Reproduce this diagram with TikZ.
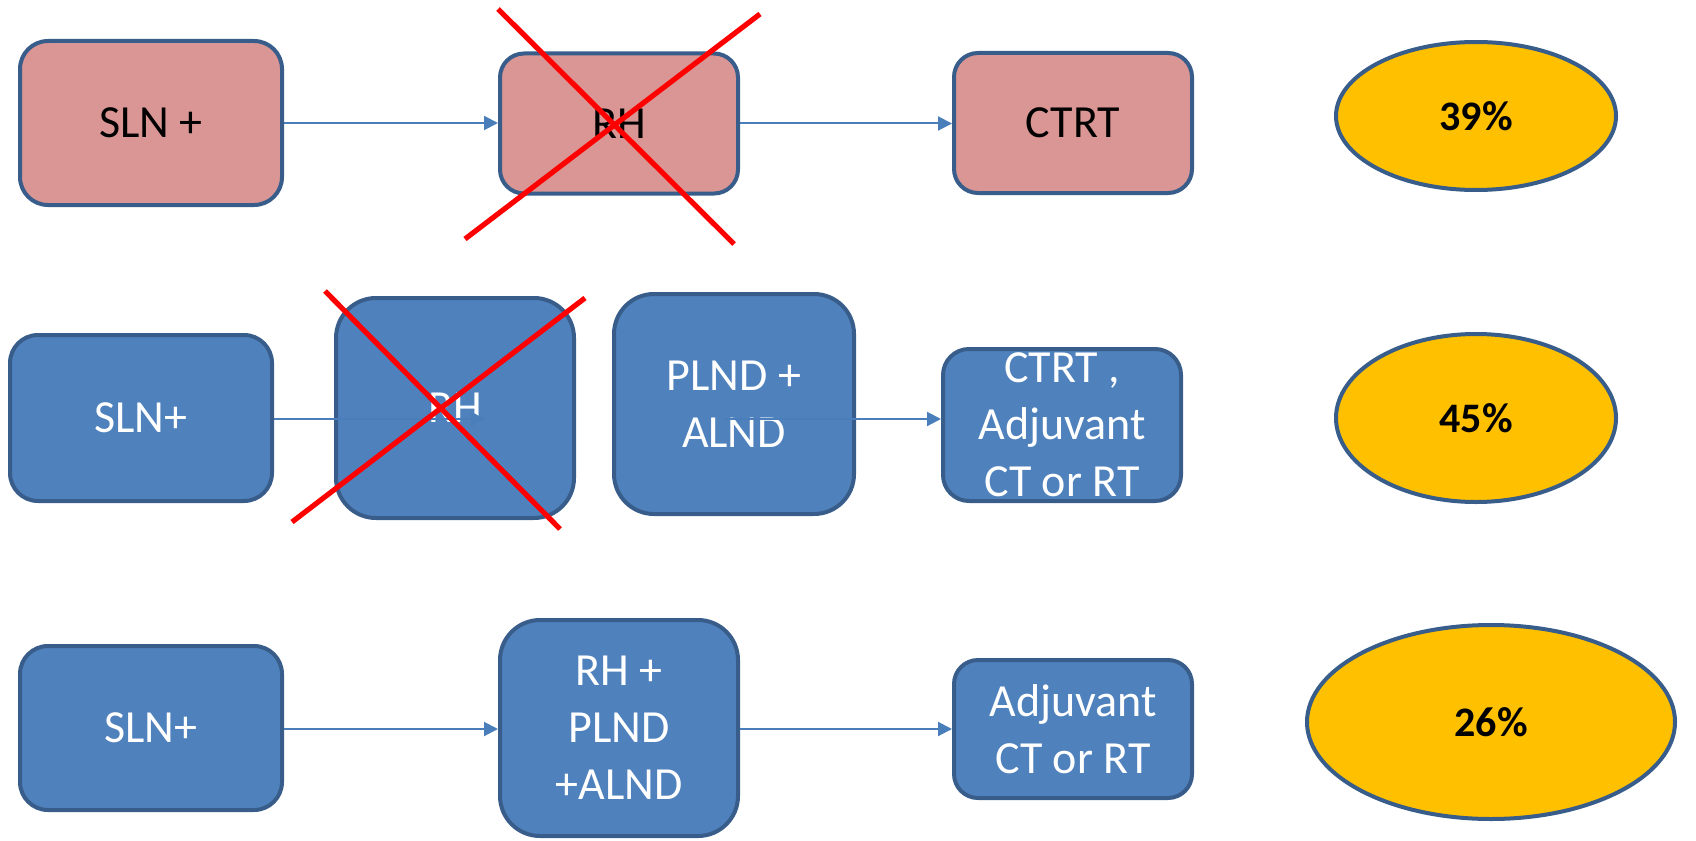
\documentclass[tikz,border=0pt]{standalone}
\usepackage{fontspec}
\setmainfont{Carlito}
\usetikzlibrary{shapes.geometric,arrows.meta}
\definecolor{pinkfill}{HTML}{D99694}
\definecolor{bluefill}{HTML}{4F81BD}
\definecolor{edgeblue}{HTML}{385D8A}
\definecolor{goldfill}{HTML}{FFC000}
\definecolor{linkblue}{HTML}{4A7EBB}
\tikzset{
  box/.style={rectangle, draw=edgeblue, line width=2pt, inner sep=0pt, align=center,
    font=\fontsize{23}{28.5}\selectfont},
  pinkbox/.style={box, fill=pinkfill, text=black},
  bluebox/.style={box, fill=bluefill, text=white},
  pct/.style={ellipse, draw=edgeblue, line width=2pt, fill=goldfill, inner sep=0pt,
    font=\fontsize{21}{25}\selectfont\bfseries},
  link/.style={draw=linkblue, line width=1pt, -{Triangle[length=7pt,width=7pt]}},
  strike/.style={draw=red, line width=2.6pt},
}
\begin{document}
\begin{tikzpicture}[x=0.5pt,y=-0.5pt]
\useasboundingbox (0,0) rectangle (1696,840);

% first row
\node[pinkbox, minimum width=131pt, minimum height=82pt, rounded corners=14pt] (s1) at (151,123) {SLN +};
\node[pinkbox, minimum width=119pt, minimum height=70pt, rounded corners=12pt] (r1) at (619,123.5) {RH};
\node[pinkbox, minimum width=119pt, minimum height=70pt, rounded corners=12pt] (c1) at (1073,123) {CTRT};
\node[pct, minimum width=140pt, minimum height=74pt] (e1) at (1476,116) {39\%};
\draw[link] (s1.east) -- (s1.east -| r1.west);
\draw[link] (r1.east) -- (r1.east -| c1.west);

% second row
\node[bluebox, minimum width=131pt, minimum height=83pt, rounded corners=14pt] (s2) at (141,418) {SLN+};
\node[bluebox, minimum width=119pt, minimum height=110pt, rounded corners=20pt] (r2) at (455,408) {RH};
\node[bluebox, minimum width=120pt, minimum height=110pt, rounded corners=20pt] (p2) at (734,404) {PLND +\\ALND};
\node[bluebox, minimum width=119pt, minimum height=76pt, rounded corners=13pt] (c2) at (1062,425) {CTRT ,\\Adjuvant\\CT or RT};
\node[pct, minimum width=140pt, minimum height=84pt] (e2) at (1476,418) {45\%};
\coordinate (k1) at (485,419);
\coordinate (k2) at (725,419);
\draw[link] (s2.east |- k1) -- (k1);
\draw[link] (k2) -- (k2 -| c2.west);

% third row
\node[bluebox, minimum width=131pt, minimum height=82pt, rounded corners=14pt] (s3) at (151,728) {SLN+};
\node[bluebox, minimum width=119pt, minimum height=108pt, rounded corners=20pt] (r3) at (619,728) {RH +\\PLND\\+ALND};
\node[bluebox, minimum width=119pt, minimum height=69pt, rounded corners=12pt] (c3) at (1073,729) {Adjuvant\\CT or RT};
\node[pct, minimum width=184pt, minimum height=97pt] (e3) at (1491,722) {26\%};
\draw[link] (s3.east |- 0,729) -- (r3.west |- 0,729);
\draw[link] (r3.east |- 0,729) -- (c3.west |- 0,729);

% crossed-out steps
\draw[strike] (498,9) -- (734,244);
\draw[strike] (465,239) -- (760,14);
\draw[strike] (325,291) -- (560,529);
\draw[strike] (292,522) -- (585,298);
\end{tikzpicture}
\end{document}
